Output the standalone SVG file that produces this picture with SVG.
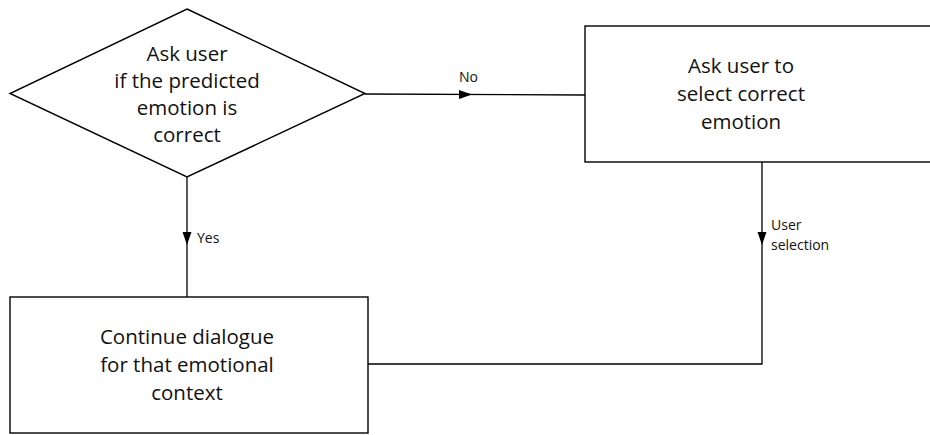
<svg xmlns="http://www.w3.org/2000/svg" width="930" height="435" viewBox="0 0 930 435">
<style>
.shape{fill:#fff;stroke:#000;stroke-width:1.4}
.line{fill:none;stroke:#000;stroke-width:1.3}
.head{fill:#000;stroke:none}
.t{font-family:"Open Sans","Noto Sans","Liberation Sans",sans-serif;font-size:20.5px;fill:#111;text-anchor:middle}
.l{font-family:"Open Sans","Noto Sans","Liberation Sans",sans-serif;font-size:14px;fill:#111}
</style>
<rect width="930" height="435" fill="#fff"/>
<g id="connectors">
<path class="line" d="M365,94 L585,95"/>
<polygon class="head" points="472,94.5 459,90 459,99"/>
<text class="l" x="459" y="82">No</text>
<path class="line" d="M187,177 L187,297"/>
<polygon class="head" points="187,245 182.5,232 191.5,232"/>
<text class="l" x="197" y="243">Yes</text>
<path class="line" d="M368,364 L762,364 L762,162"/>
<polygon class="head" points="762,245 757.5,232 766.5,232"/>
<text class="l" x="771" y="230">User</text>
<text class="l" x="771" y="250">selection</text>
</g>
<g id="decision">
<polygon class="shape" points="187,9 365,93.5 187,177 10,93.5"/>
<text class="t" x="187" y="61">Ask user</text>
<text class="t" x="187" y="88">if the predicted</text>
<text class="t" x="187" y="115">emotion is</text>
<text class="t" x="187" y="142">correct</text>
</g>
<g id="select">
<rect class="shape" x="585" y="26" width="360" height="136"/>
<text class="t" x="741" y="73">Ask user to</text>
<text class="t" x="741" y="101">select correct</text>
<text class="t" x="741" y="129">emotion</text>
</g>
<g id="continue">
<rect class="shape" x="10" y="297" width="358" height="136"/>
<text class="t" x="187" y="344">Continue dialogue</text>
<text class="t" x="187" y="372">for that emotional</text>
<text class="t" x="187" y="400">context</text>
</g>
</svg>
